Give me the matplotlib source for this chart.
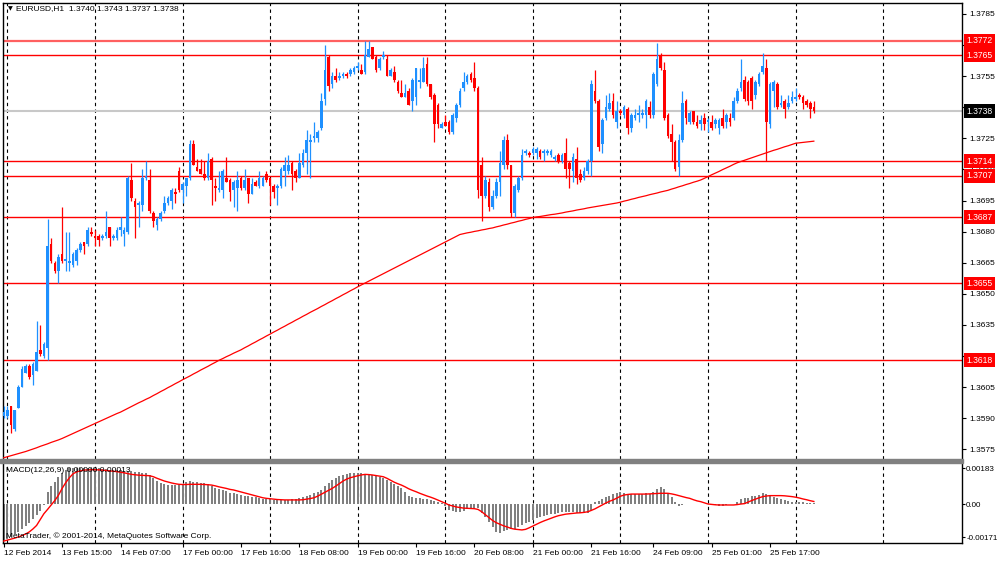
import numpy as np
import pandas as pd
import matplotlib
matplotlib.use("Agg")
import matplotlib.pyplot as plt
from matplotlib.patches import Rectangle
from matplotlib.transforms import blended_transform_factory

plt.rcParams['font.family'] = ['Liberation Sans', 'DejaVu Sans']
plt.rcParams['font.size'] = 6

######################################################################
# EURUSD H1 candles
######################################################################

opens = [
    1.3591, 1.3591, 1.3596, 1.3585, 1.3595, 1.3605, 1.3612, 1.3615, 1.3611, 1.3613,
    1.3623, 1.3620, 1.3624, 1.3674, 1.3665, 1.3661, 1.3669, 1.3666, 1.3665, 1.3664,
    1.3666, 1.3671, 1.3675, 1.3674, 1.3680, 1.3678, 1.3678, 1.3677, 1.3678, 1.3682,
    1.3677, 1.3677, 1.3681, 1.3679, 1.3680, 1.3705, 1.3695, 1.3693, 1.3693, 1.3706,
    1.3705, 1.3689, 1.3683, 1.3686, 1.3690, 1.3694, 1.3695, 1.3699, 1.3709, 1.3700,
    1.3702, 1.3706, 1.3722, 1.3711, 1.3710, 1.3708, 1.3706, 1.3715, 1.3702, 1.3700,
    1.3700, 1.3706, 1.3705, 1.3700, 1.3701, 1.3706, 1.3701, 1.3706, 1.3698, 1.3704,
    1.3702, 1.3702, 1.3708, 1.3706, 1.3702, 1.3701, 1.3702, 1.3709, 1.3709, 1.3713,
    1.3709, 1.3706, 1.3712, 1.3718, 1.3723, 1.3725, 1.3725, 1.3730, 1.3744, 1.3764,
    1.3751, 1.3755, 1.3754, 1.3755, 1.3756, 1.3756, 1.3757, 1.3759, 1.3758, 1.3757,
    1.3764, 1.3769, 1.3764, 1.3759, 1.3764, 1.3763, 1.3755, 1.3757, 1.3752, 1.3747,
    1.3745, 1.3748, 1.3743, 1.3745, 1.3752, 1.3752, 1.3761, 1.3751, 1.3746, 1.3741,
    1.3730, 1.3733, 1.3733, 1.3728, 1.3735, 1.3741, 1.3749, 1.3752, 1.3756, 1.3754,
    1.3749, 1.3712, 1.3697, 1.3704, 1.3692, 1.3697, 1.3704, 1.3712, 1.3724, 1.3712,
    1.3689, 1.3700, 1.3706, 1.3718, 1.3718, 1.3718, 1.3718, 1.3719, 1.3718, 1.3718,
    1.3717, 1.3715, 1.3717, 1.3714, 1.3718, 1.3713, 1.3709, 1.3715, 1.3708, 1.3706,
    1.3709, 1.3714, 1.3748, 1.3743, 1.3722, 1.3735, 1.3739, 1.3743, 1.3733, 1.3738,
    1.3736, 1.3739, 1.3730, 1.3735, 1.3736, 1.3736, 1.3736, 1.3740, 1.3736, 1.3751,
    1.3765, 1.3758, 1.3736, 1.3727, 1.3723, 1.3711, 1.3724, 1.3743, 1.3733, 1.3738,
    1.3733, 1.3732, 1.3735, 1.3733, 1.3733, 1.3732, 1.3730, 1.3735, 1.3733, 1.3735,
    1.3735, 1.3743, 1.3749, 1.3753, 1.3752, 1.3754, 1.3746, 1.3751, 1.3757, 1.3759,
    1.3732, 1.3748, 1.3751, 1.3741, 1.3743, 1.3740, 1.3743, 1.3744, 1.3746, 1.3745,
    1.3743, 1.3742, 1.3740,
]

highs = [
    1.3596, 1.3596, 1.3596, 1.3594, 1.3606, 1.3615, 1.3616, 1.3616, 1.3617, 1.3637,
    1.3635, 1.3627, 1.3686, 1.3677, 1.3666, 1.3669, 1.3692, 1.3680, 1.3680, 1.3670,
    1.3672, 1.3675, 1.3675, 1.3682, 1.3682, 1.3681, 1.3679, 1.3679, 1.3690, 1.3682,
    1.3679, 1.3682, 1.3687, 1.3682, 1.3707, 1.3713, 1.3696, 1.3695, 1.3710, 1.3714,
    1.3710, 1.3690, 1.3687, 1.3690, 1.3697, 1.3697, 1.3701, 1.3701, 1.3711, 1.3704,
    1.3706, 1.3724, 1.3724, 1.3715, 1.3715, 1.3714, 1.3718, 1.3716, 1.3706, 1.3709,
    1.3710, 1.3716, 1.3706, 1.3705, 1.3709, 1.3707, 1.3710, 1.3706, 1.3706, 1.3705,
    1.3709, 1.3707, 1.3709, 1.3706, 1.3703, 1.3703, 1.3711, 1.3716, 1.3717, 1.3714,
    1.3710, 1.3718, 1.3720, 1.3729, 1.3727, 1.3733, 1.3729, 1.3747, 1.3770, 1.3765,
    1.3757, 1.3759, 1.3757, 1.3757, 1.3757, 1.3759, 1.3760, 1.3762, 1.3761, 1.3772,
    1.3772, 1.3769, 1.3765, 1.3764, 1.3767, 1.3765, 1.3759, 1.3760, 1.3753, 1.3753,
    1.3751, 1.3749, 1.3754, 1.3759, 1.3759, 1.3764, 1.3764, 1.3751, 1.3747, 1.3742,
    1.3733, 1.3736, 1.3734, 1.3737, 1.3742, 1.3749, 1.3757, 1.3756, 1.3757, 1.3762,
    1.3750, 1.3716, 1.3707, 1.3706, 1.3700, 1.3706, 1.3719, 1.3726, 1.3727, 1.3712,
    1.3703, 1.3707, 1.3720, 1.3720, 1.3719, 1.3721, 1.3721, 1.3720, 1.3720, 1.3720,
    1.3720, 1.3717, 1.3718, 1.3718, 1.3725, 1.3714, 1.3718, 1.3721, 1.3710, 1.3711,
    1.3715, 1.3753, 1.3758, 1.3744, 1.3735, 1.3746, 1.3747, 1.3747, 1.3743, 1.3739,
    1.3741, 1.3740, 1.3737, 1.3739, 1.3741, 1.3739, 1.3744, 1.3743, 1.3757, 1.3771,
    1.3766, 1.3762, 1.3737, 1.3732, 1.3724, 1.3727, 1.3748, 1.3744, 1.3738, 1.3738,
    1.3736, 1.3736, 1.3737, 1.3735, 1.3736, 1.3735, 1.3735, 1.3739, 1.3737, 1.3737,
    1.3745, 1.3749, 1.3763, 1.3755, 1.3753, 1.3755, 1.3753, 1.3757, 1.3766, 1.3763,
    1.3752, 1.3753, 1.3752, 1.3746, 1.3744, 1.3746, 1.3748, 1.3749, 1.3747, 1.3746,
    1.3744, 1.3743, 1.3743,
]

lows = [
    1.3590, 1.3590, 1.3583, 1.3584, 1.3595, 1.3605, 1.3612, 1.3609, 1.3606, 1.3613,
    1.3620, 1.3619, 1.3618, 1.3665, 1.3660, 1.3655, 1.3665, 1.3661, 1.3661, 1.3663,
    1.3664, 1.3670, 1.3669, 1.3673, 1.3678, 1.3673, 1.3673, 1.3676, 1.3677, 1.3673,
    1.3676, 1.3676, 1.3678, 1.3673, 1.3679, 1.3695, 1.3677, 1.3682, 1.3690, 1.3705,
    1.3689, 1.3682, 1.3681, 1.3685, 1.3689, 1.3693, 1.3691, 1.3694, 1.3699, 1.3694,
    1.3697, 1.3705, 1.3712, 1.3709, 1.3708, 1.3705, 1.3705, 1.3693, 1.3695, 1.3699,
    1.3696, 1.3704, 1.3695, 1.3692, 1.3690, 1.3700, 1.3700, 1.3694, 1.3698, 1.3702,
    1.3701, 1.3702, 1.3704, 1.3693, 1.3696, 1.3693, 1.3701, 1.3702, 1.3708, 1.3700,
    1.3704, 1.3706, 1.3711, 1.3708, 1.3706, 1.3723, 1.3723, 1.3729, 1.3741, 1.3748,
    1.3749, 1.3752, 1.3753, 1.3754, 1.3754, 1.3755, 1.3756, 1.3758, 1.3756, 1.3756,
    1.3764, 1.3763, 1.3757, 1.3758, 1.3763, 1.3755, 1.3755, 1.3752, 1.3747, 1.3745,
    1.3745, 1.3741, 1.3738, 1.3741, 1.3749, 1.3752, 1.3750, 1.3744, 1.3723, 1.3730,
    1.3730, 1.3731, 1.3727, 1.3727, 1.3733, 1.3740, 1.3748, 1.3751, 1.3752, 1.3748,
    1.3696, 1.3685, 1.3696, 1.3690, 1.3691, 1.3696, 1.3697, 1.3710, 1.3710, 1.3687,
    1.3687, 1.3699, 1.3705, 1.3717, 1.3716, 1.3717, 1.3715, 1.3715, 1.3714, 1.3717,
    1.3716, 1.3714, 1.3713, 1.3713, 1.3706, 1.3701, 1.3704, 1.3703, 1.3704, 1.3705,
    1.3708, 1.3707, 1.3742, 1.3719, 1.3718, 1.3734, 1.3738, 1.3735, 1.3730, 1.3736,
    1.3735, 1.3727, 1.3728, 1.3734, 1.3733, 1.3735, 1.3730, 1.3735, 1.3735, 1.3750,
    1.3758, 1.3734, 1.3725, 1.3714, 1.3709, 1.3707, 1.3723, 1.3732, 1.3732, 1.3732,
    1.3730, 1.3729, 1.3729, 1.3728, 1.3729, 1.3730, 1.3727, 1.3730, 1.3730, 1.3731,
    1.3734, 1.3742, 1.3748, 1.3743, 1.3741, 1.3739, 1.3744, 1.3750, 1.3756, 1.3714,
    1.3730, 1.3740, 1.3739, 1.3740, 1.3735, 1.3739, 1.3742, 1.3743, 1.3744, 1.3739,
    1.3740, 1.3735, 1.3737,
]

closes = [
    1.3593, 1.3594, 1.3587, 1.3594, 1.3605, 1.3614, 1.3615, 1.3610, 1.3616, 1.3622,
    1.3621, 1.3626, 1.3673, 1.3666, 1.3661, 1.3668, 1.3666, 1.3667, 1.3666, 1.3669,
    1.3671, 1.3674, 1.3673, 1.3681, 1.3679, 1.3677, 1.3676, 1.3678, 1.3680, 1.3677,
    1.3678, 1.3681, 1.3682, 1.3681, 1.3706, 1.3696, 1.3692, 1.3694, 1.3706, 1.3707,
    1.3690, 1.3685, 1.3686, 1.3689, 1.3694, 1.3696, 1.3700, 1.3698, 1.3700, 1.3703,
    1.3706, 1.3722, 1.3712, 1.3709, 1.3708, 1.3706, 1.3714, 1.3705, 1.3701, 1.3701,
    1.3709, 1.3704, 1.3699, 1.3704, 1.3705, 1.3701, 1.3705, 1.3698, 1.3703, 1.3702,
    1.3706, 1.3706, 1.3705, 1.3702, 1.3699, 1.3702, 1.3710, 1.3712, 1.3712, 1.3708,
    1.3706, 1.3713, 1.3718, 1.3724, 1.3724, 1.3726, 1.3728, 1.3743, 1.3758, 1.3750,
    1.3755, 1.3753, 1.3755, 1.3756, 1.3755, 1.3758, 1.3759, 1.3760, 1.3756, 1.3765,
    1.3768, 1.3763, 1.3758, 1.3763, 1.3765, 1.3755, 1.3758, 1.3753, 1.3748, 1.3745,
    1.3747, 1.3741, 1.3753, 1.3759, 1.3753, 1.3759, 1.3751, 1.3745, 1.3732, 1.3732,
    1.3732, 1.3731, 1.3728, 1.3736, 1.3741, 1.3748, 1.3752, 1.3755, 1.3753, 1.3749,
    1.3700, 1.3697, 1.3705, 1.3692, 1.3697, 1.3704, 1.3713, 1.3724, 1.3712, 1.3689,
    1.3702, 1.3706, 1.3717, 1.3719, 1.3717, 1.3720, 1.3720, 1.3716, 1.3719, 1.3719,
    1.3719, 1.3716, 1.3714, 1.3717, 1.3710, 1.3710, 1.3716, 1.3706, 1.3705, 1.3709,
    1.3714, 1.3751, 1.3743, 1.3721, 1.3734, 1.3740, 1.3742, 1.3736, 1.3738, 1.3737,
    1.3740, 1.3730, 1.3736, 1.3736, 1.3737, 1.3737, 1.3743, 1.3736, 1.3756, 1.3763,
    1.3759, 1.3735, 1.3726, 1.3723, 1.3710, 1.3724, 1.3742, 1.3735, 1.3737, 1.3733,
    1.3731, 1.3734, 1.3732, 1.3734, 1.3730, 1.3734, 1.3734, 1.3731, 1.3736, 1.3733,
    1.3743, 1.3748, 1.3752, 1.3744, 1.3743, 1.3743, 1.3752, 1.3756, 1.3760, 1.3733,
    1.3751, 1.3752, 1.3740, 1.3742, 1.3739, 1.3742, 1.3745, 1.3745, 1.3745, 1.3742,
    1.3741, 1.3739, 1.3738,
]

# moving average on the price chart, in 1e-5 above 1.35000
ma_pts = [
    710, 715, 720, 725, 730, 735, 740, 746, 752, 758,
    765, 771, 777, 784, 790, 796, 803, 811, 819, 827,
    835, 843, 851, 859, 867, 875, 883, 891, 899, 907,
    915, 923, 930, 939, 948, 957, 966, 975, 983, 992,
    1000, 1010, 1019, 1029, 1038, 1048, 1057, 1067, 1076, 1086,
    1095, 1104, 1114, 1123, 1133, 1142, 1151, 1161, 1170, 1180,
    1188, 1197, 1205, 1214, 1222, 1230, 1240, 1249, 1259, 1268,
    1278, 1287, 1297, 1306, 1316, 1325, 1335, 1344, 1354, 1363,
    1373, 1382, 1392, 1401, 1411, 1420, 1429, 1439, 1448, 1458,
    1467, 1477, 1486, 1496, 1505, 1515, 1524, 1534, 1543, 1552,
    1561, 1570, 1579, 1588, 1597, 1606, 1615, 1624, 1633, 1642,
    1651, 1660, 1669, 1678, 1687, 1696, 1705, 1714, 1723, 1732,
    1741, 1750, 1759, 1768, 1777, 1786, 1790, 1794, 1797, 1801,
    1804, 1808, 1811, 1815, 1818, 1823, 1827, 1832, 1836, 1841,
    1845, 1850, 1854, 1859, 1863, 1868, 1871, 1873, 1876, 1879,
    1882, 1884, 1887, 1890, 1894, 1897, 1900, 1904, 1907, 1910,
    1914, 1917, 1920, 1923, 1926, 1929, 1932, 1935, 1938, 1942,
    1947, 1951, 1956, 1960, 1965, 1969, 1973, 1978, 1982, 1986,
    1991, 1995, 1999, 2005, 2010, 2016, 2021, 2027, 2032, 2038,
    2043, 2049, 2057, 2065, 2074, 2082, 2090, 2099, 2107, 2115,
    2124, 2132, 2138, 2144, 2150, 2156, 2162, 2168, 2174, 2180,
    2186, 2192, 2197, 2203, 2209, 2214, 2220, 2226, 2228, 2230,
    2232, 2234, 2236,
]

# MACD(12,26,9) histogram and signal, in 1e-5
macd_main = [
    -185, -178, -168, -155, -142, -128, -112, -95, -78, -58,
    -35, -5, 63, 94, 115, 140, 157, 174, 183, 185,
    186, 186, 186, 185, 185, 184, 183, 181, 179, 177,
    175, 174, 172, 170, 168, 167, 166, 164, 160, 157,
    148, 132, 120, 110, 102, 97, 95, 95, 97, 105,
    112, 116, 115, 112, 110, 108, 104, 92, 80, 75,
    70, 65, 58, 55, 50, 46, 43, 40, 38, 34,
    30, 28, 26, 24, 22, 21, 21, 21, 23, 25,
    27, 29, 35, 40, 46, 55, 64, 72, 90, 110,
    125, 135, 145, 150, 154, 157, 158, 158, 157, 155,
    152, 148, 144, 140, 132, 124, 115, 103, 92, 80,
    60, 40, 34, 33, 32, 28, 24, 21, 16, 10,
    3, -12, -31, -36, -39, -39, -35, -28, -26, -24,
    -22, -45, -65, -91, -116, -142, -147, -139, -133, -128,
    -128, -116, -108, -99, -91, -82, -70, -65, -62, -56,
    -53, -50, -46, -43, -43, -43, -43, -46, -46, -48,
    -48, -31, 12, 15, 26, 34, 43, 50, 55, 60,
    56, 51, 50, 50, 50, 50, 55, 51, 63, 75,
    86, 75, 55, 38, 12, -9, -5, -2, 2, 2,
    2, 2, 0, -2, -5, -7, -9, -9, -5, -2,
    2, 12, 26, 29, 32, 39, 43, 46, 58, 50,
    43, 34, 29, 24, 21, 15, 12, 12, 10, 9,
    7, 5, 3,
]

macd_signal = [
    -190, -185, -180, -175, -169, -162, -154, -143, -128, -110,
    -80, -50, -28, -5, 18, 45, 80, 110, 135, 155,
    165, 170, 174, 175, 176, 176, 175, 174, 172, 170,
    168, 166, 163, 160, 156, 152, 150, 148, 147, 146,
    145, 140, 132, 125, 118, 113, 108, 104, 101, 100,
    100, 101, 101, 101, 101, 100, 99, 97, 93, 88,
    84, 80, 75, 72, 67, 62, 57, 52, 47, 42,
    37, 32, 29, 27, 25, 23, 22, 21, 21, 21,
    21, 21, 22, 25, 28, 32, 40, 50, 60, 70,
    80, 92, 105, 118, 128, 135, 140, 145, 149, 152,
    151, 149, 146, 143, 140, 132, 122, 112, 104, 97,
    88, 78, 70, 63, 55, 48, 41, 35, 28, 20,
    12, 4, -5, -10, -15, -18, -21, -22, -23, -24,
    -28, -40, -55, -70, -85, -96, -104, -112, -118, -125,
    -129, -131, -133, -130, -122, -113, -104, -95, -87, -80,
    -73, -66, -60, -56, -52, -50, -48, -46, -45, -43,
    -40, -33, -25, -15, -5, 5, 14, 21, 30, 40,
    46, 49, 51, 51, 51, 51, 51, 52, 53, 54,
    55, 55, 55, 52, 48, 43, 38, 33, 29, 22,
    16, 12, 6, 0, -2, -4, -5, -5, -5, -5,
    -5, -3, 0, 2, 10, 18, 25, 32, 38, 41,
    43, 43, 43, 43, 42, 40, 38, 35, 31, 26,
    22, 17, 13,
]

levels = [1.3772, 1.3765, 1.3714, 1.3707, 1.3687, 1.3655, 1.3618]
bid = 1.3738
price_ticks = [1.3785, 1.3770, 1.3755, 1.3740, 1.3725, 1.3710, 1.3695, 1.3680,
               1.3665, 1.3650, 1.3635, 1.3620, 1.3605, 1.3590, 1.3575]
macd_ticks = [0.00183, 0.0, -0.00171]
macd_tick_labels = ["0.00183", "0.00", "-0.00171"]
tick_idx = [0, 16, 32, 49, 65, 81, 97, 113, 129, 145, 161, 178, 194, 210]

######################################################################
# bar times: hourly, weekends skipped
######################################################################

n = len(closes)
hours = pd.date_range("2014-02-12 23:00", periods=400, freq="h")
times = hours[hours.dayofweek < 5][:n]
day_starts = [i for i, t in enumerate(times) if t.hour == 0]
day_starts.append(day_starts[-1] + 24)  # next (empty) day on the right

tick_labels = [times[i].strftime("%d %b %Y") if k == 0 else times[i].strftime("%d %b %H:%M")
               for k, i in enumerate(tick_idx)]

######################################################################
# Plot
######################################################################

fig = plt.figure(figsize=(10, 5.61), dpi=100)
W, H = 1000.0, 561.0
ax = fig.add_axes([3 / W, 1 - 459 / H, 959 / W, 456 / H])
ax2 = fig.add_axes([3 / W, 1 - 543 / H, 959 / W, 81 / H])

x = np.arange(n)
o = np.array(opens)
h = np.array(highs)
l = np.array(lows)
c = np.array(closes)
up = c >= o
col = np.where(up, "#1E90FF", "#FF0000")

for d in day_starts:
    ax.axvline(d, color="black", ls=(0, (3, 3)), lw=0.8, zorder=0)
    ax2.axvline(d, color="black", ls=(0, (3, 3)), lw=0.8, zorder=0)

ax.axhline(bid, color="#C8C8C8", lw=1.5, zorder=1)
for lv in levels:
    if lv == levels[0]:
        ax.axhline(lv, color="#FF6060", lw=1.6, zorder=2)
    else:
        ax.axhline(lv, color="#FF0000", lw=1, zorder=2)

ax.vlines(x, l, h, colors=col, lw=0.9, zorder=3)
ax.bar(x, np.maximum(np.abs(c - o), 0.00003), bottom=np.minimum(o, c),
       width=0.72, color=col, linewidth=0, zorder=4)

ax.plot(x, np.array(ma_pts) * 1e-5 + 1.35, color="#FF0000", lw=0.9, zorder=5)

ax.set_xlim(-0.2, 262.6)
ax.set_ylim(1.35704, 1.37902)
ax.set_xticks([])
ax.yaxis.tick_right()
ax.set_yticks(price_ticks)
ax.set_yticklabels(["%.4f" % v for v in price_ticks])
ax.tick_params(axis="y", direction="out", length=3, pad=2, labelsize=6, width=0.8)
for s in ax.spines.values():
    s.set_color("black")
    s.set_linewidth(1)
ax.spines["bottom"].set_visible(False)

trans = blended_transform_factory(ax.transAxes, ax.transData)
for lv in levels:
    ax.text(1.0045, lv, "%.4f" % lv, transform=trans, ha="left", va="center",
            color="white", fontsize=6.2, clip_on=False, zorder=10,
            bbox=dict(boxstyle="square,pad=0.28", fc="#FF0000", ec="none"))
ax.text(1.0045, bid, "%.4f" % bid, transform=trans, ha="left", va="center",
        color="white", fontsize=6.2, clip_on=False, zorder=10,
        bbox=dict(boxstyle="square,pad=0.28", fc="black", ec="none"))

ax.text(0.0055, 0.987, "\u25bc", transform=ax.transAxes, ha="left", va="center",
        fontsize=4.5, family=["DejaVu Sans"])
ax.text(0.0136, 0.987, "EURUSD,H1  %.4f %.4f %.4f %.4f" % (opens[-1], highs[-1], lows[-1], closes[-1]),
        transform=ax.transAxes, ha="left", va="center", fontsize=6)

# MACD panel
ax2.bar(x, np.array(macd_main) * 1e-5, width=0.55, color="#808080", linewidth=0, zorder=2)
ax2.plot(x, np.array(macd_signal) * 1e-5, color="#FF0000", lw=1, zorder=3)
ax2.set_xlim(-0.2, 262.6)
ax2.set_ylim(-0.0020, 0.002155)
ax2.yaxis.tick_right()
ax2.set_yticks(macd_ticks)
ax2.set_yticklabels(macd_tick_labels)
ax2.tick_params(axis="y", direction="out", length=2, pad=1, labelsize=5.8, width=0.8)
ax2.set_xticks(tick_idx)
ax2.set_xticklabels(tick_labels)
for lab in ax2.get_xticklabels():
    lab.set_ha("left")
ax2.tick_params(axis="x", direction="out", length=3, pad=2, labelsize=6, width=0.8)
for s in ax2.spines.values():
    s.set_color("black")
    s.set_linewidth(1)
ax2.spines["top"].set_visible(False)

ax2.text(0.003, 0.9, "MACD(12,26,9) 0.00000 %.5f" % (macd_signal[-1] * 1e-5),
         transform=ax2.transAxes, ha="left", va="center", fontsize=6, zorder=6)
ax2.text(0.003, 0.086, "MetaTrader, \u00a9 2001-2014, MetaQuotes Software Corp.",
         transform=ax2.transAxes, ha="left", va="center", fontsize=6, zorder=6)

# grey separator between the two panels
fig.patches.append(Rectangle((0, 1 - 462.5 / H), 962.5 / W, 4 / H,
                             transform=fig.transFigure, color="#808080", zorder=20))

fig.savefig("out.png", dpi=100)
